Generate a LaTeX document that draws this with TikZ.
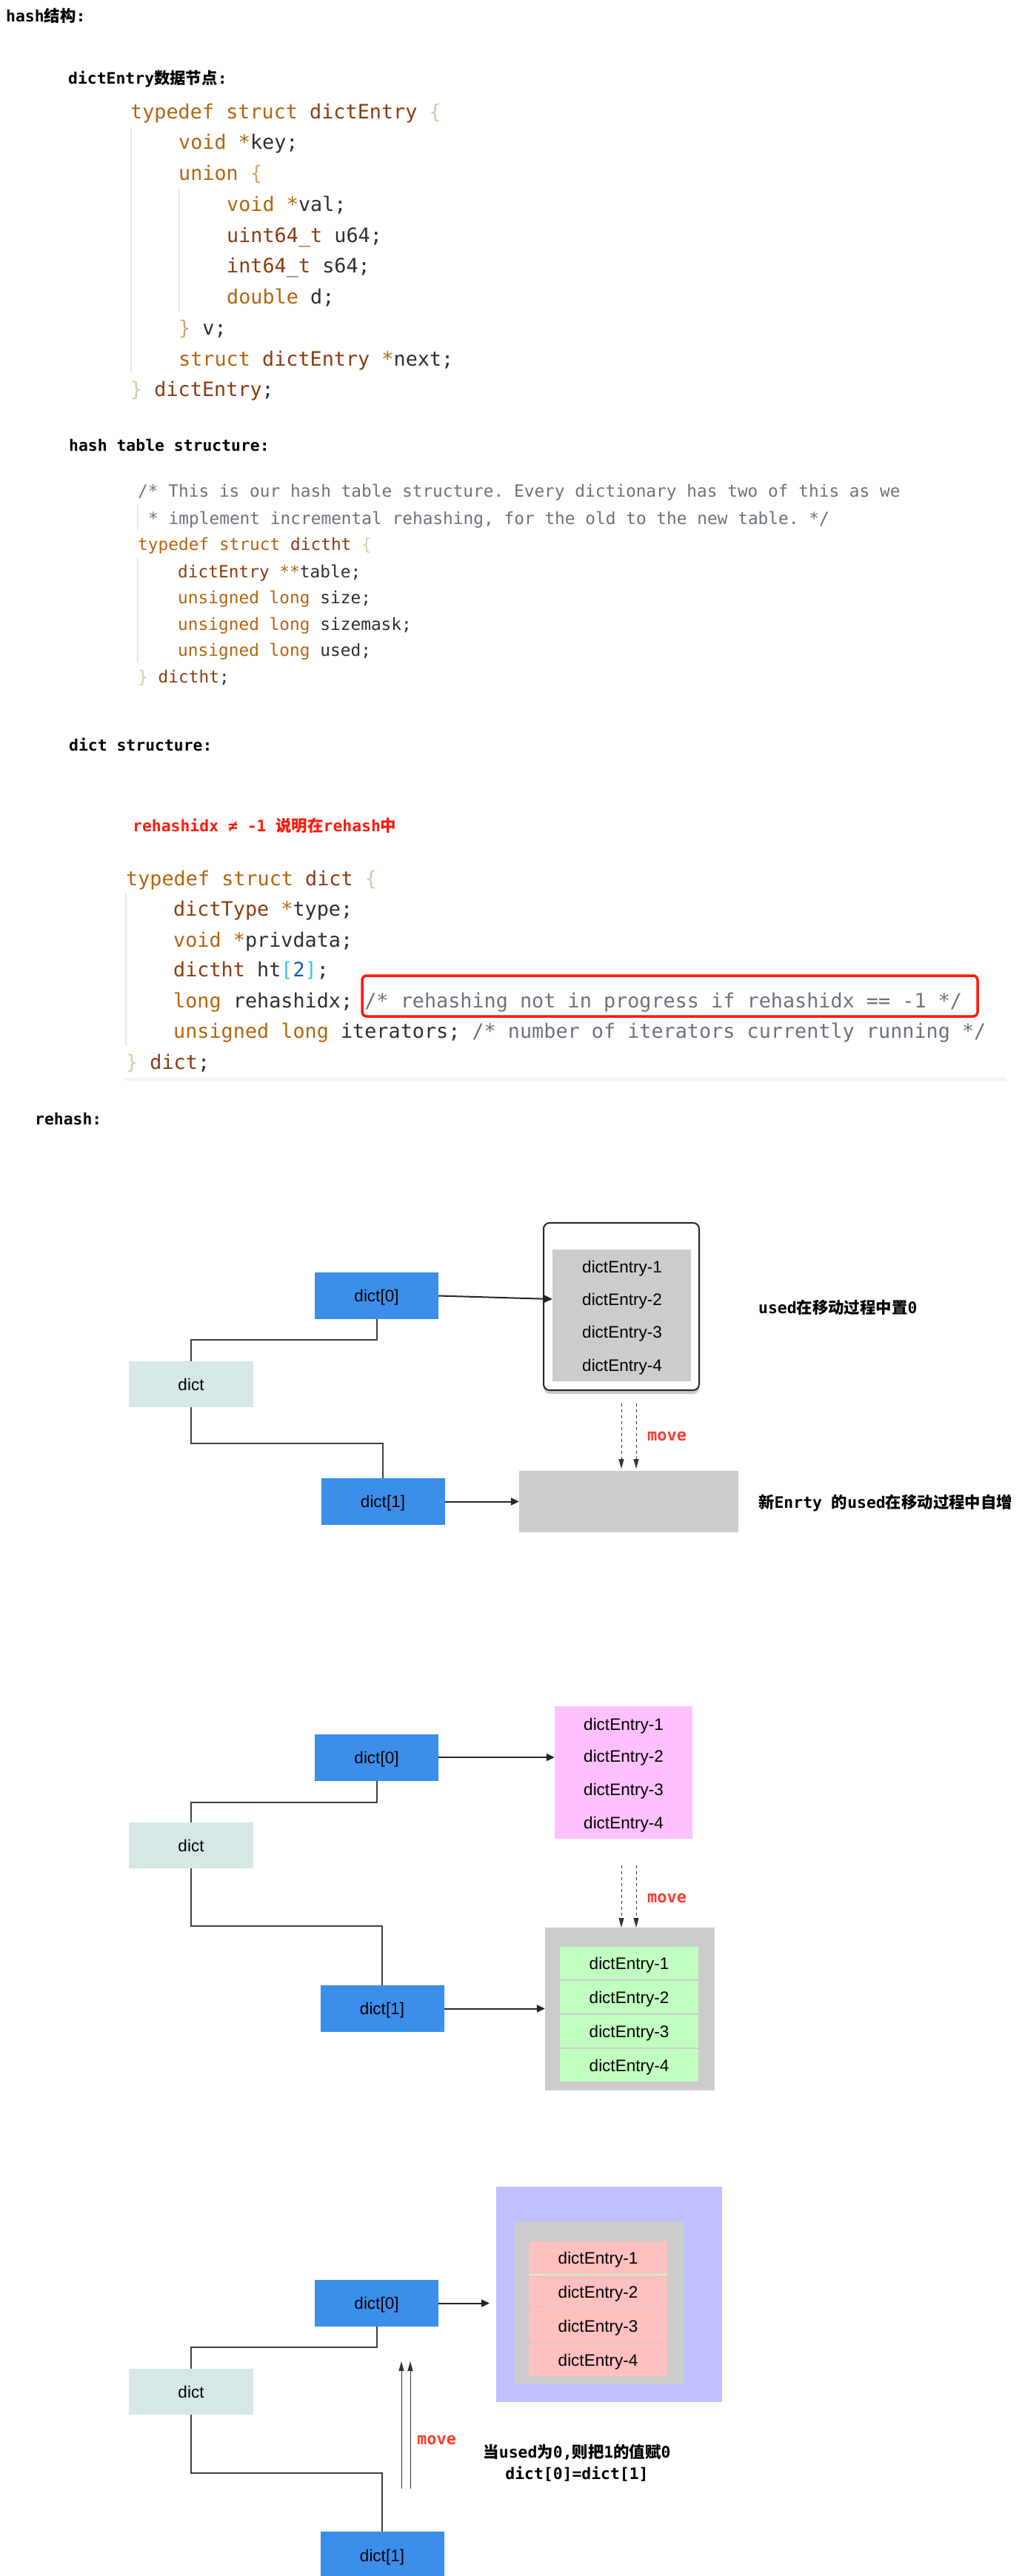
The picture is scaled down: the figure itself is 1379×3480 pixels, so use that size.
\documentclass[tikz,border=0pt]{standalone}
\usepackage{fontspec}
\setmainfont{Liberation Sans}
\setmonofont{DejaVu Sans Mono}
\newfontfamily\cjk{Noto Sans CJK SC}
\usetikzlibrary{arrows.meta,shadows}
\definecolor{kwc}{HTML}{B5640E}
\definecolor{tyc}{HTML}{8C3B10}
\definecolor{brc}{HTML}{D3CEA4}
\definecolor{brbc}{HTML}{D2A56C}
\definecolor{idc}{HTML}{2B3036}
\definecolor{cmc}{HTML}{6A737D}
\definecolor{bkc}{HTML}{3EBEF5}
\definecolor{numc}{HTML}{1357B8}
\definecolor{guidec}{HTML}{E6E6E6}
\definecolor{redc}{HTML}{FF1A0A}
\definecolor{movec}{HTML}{FF3B30}
\definecolor{bluec}{HTML}{3B8EEA}
\definecolor{dictc}{HTML}{D6E8E5}
\definecolor{grayc}{HTML}{CCCCCC}
\definecolor{pinkc}{HTML}{FFC0FF}
\definecolor{greenc}{HTML}{C0FFC0}
\definecolor{salmonc}{HTML}{FFC0C0}
\definecolor{lavc}{HTML}{C0C0FF}
\definecolor{connc}{HTML}{404040}
\definecolor{barc}{HTML}{F2F3F5}
\newcommand\ckw[1]{\textcolor{kwc}{#1}}
\newcommand\cty[1]{\textcolor{tyc}{#1}}
\newcommand\cbr[1]{\textcolor{brc}{#1}}
\newcommand\cbrb[1]{\textcolor{brbc}{#1}}
\newcommand\cid[1]{\textcolor{idc}{#1}}
\newcommand\ccm[1]{\textcolor{cmc}{#1}}
\newcommand\zh[1]{{\cjk #1}}
\tikzset{
  code/.style={anchor=base west, inner sep=0pt, font=\ttfamily\fontsize{26.8pt}{30pt}\selectfont},
  codes/.style={anchor=base west, inner sep=0pt, font=\ttfamily\fontsize{22.8pt}{26pt}\selectfont},
  head/.style={anchor=base west, inner sep=0pt, font=\ttfamily\bfseries\fontsize{21.4pt}{24pt}\selectfont},
  movelbl/.style={anchor=base west, inner sep=0pt, text=movec, font=\ttfamily\bfseries\fontsize{22pt}{24pt}\selectfont},
  guide/.style={draw=guidec, line width=1.5pt},
  lbl/.style={rectangle, inner sep=0pt, text height=16pt, text depth=0pt, font=\fontsize{22.5pt}{26pt}\selectfont},
  dictbox/.style={lbl, fill=bluec, minimum width=167pt, minimum height=63pt},
  rootbox/.style={lbl, fill=dictc, minimum width=168pt, minimum height=62pt},
  conn/.style={draw=connc, line width=2pt},
  arr/.style={draw=black!85, line width=2pt, -{Triangle[length=11pt,width=10pt]}},
  dasharr/.style={draw=black!80, line width=1pt, dash pattern=on 4pt off 4pt, -{Triangle[length=13pt,width=7pt]}},
  uparr/.style={draw=black!80, line width=1pt, -{Triangle[length=13pt,width=7pt]}},
}
\begin{document}
\begin{tikzpicture}[x=1pt,y=-1pt]
\useasboundingbox (0,0) rectangle (1379,3480);
\fill[white] (0,0) rectangle (1379,3480);

% ---------- headings
\node[head] (h1) at (8,29) {hash\zh{结构}:};
\node[head] (h2) at (92,113) {dictEntry\zh{数据节点}:};
\node[head] (h3) at (93,609) {hash table structure:};
\node[head] (h4) at (93,1014) {dict structure:};
\node[head, text=redc] (h5) at (179,1123) {rehashidx ≠ -1 \zh{说明在}rehash\zh{中}};
\node[head] (h6) at (47,1519) {rehash:};

% ---------- block 1: dictEntry
\draw[guide] (177,172) -- (177,504);
\draw[guide] (242,255) -- (242,420);
\node[code] (a1) at (176,160) {\ckw{typedef struct} \cty{dictEntry} \cbr{\{}};
\node[code] (a2) at (241,201) {\ckw{void *}\cid{key;}};
\node[code] (a3) at (241,243) {\ckw{union} \cbrb{\{}};
\node[code] (a4) at (306,285) {\ckw{void *}\cid{val;}};
\node[code] (a5) at (306,327) {\cty{uint64\_t} \cid{u64;}};
\node[code] (a6) at (306,368) {\cty{int64\_t} \cid{s64;}};
\node[code] (a7) at (306,410) {\ckw{double} \cid{d;}};
\node[code] (a8) at (241,452) {\cbrb{\}} \cid{v;}};
\node[code] (a9) at (241,494) {\ckw{struct} \cty{dictEntry} \ckw{*}\cid{next;}};
\node[code] (a10) at (176,535) {\cbr{\}} \cty{dictEntry}\cid{;}};

% ---------- block 2: dictht
\draw[guide] (186,682) -- (186,717);
\draw[guide] (186,753) -- (186,895);
\node[codes] (b1) at (186,671) {\ccm{/* This is our hash table structure. Every dictionary has two of this as we}};
\node[codes] (b2) at (200,708) {\ccm{* implement incremental rehashing, for the old to the new table. */}};
\node[codes] (b3) at (186,743) {\ckw{typedef struct} \cty{dictht} \cbr{\{}};
\node[codes] (b4) at (240,780) {\cty{dictEntry} \ckw{**}\cid{table;}};
\node[codes] (b5) at (240,815) {\ckw{unsigned long} \cid{size;}};
\node[codes] (b6) at (240,851) {\ckw{unsigned long} \cid{sizemask;}};
\node[codes] (b7) at (240,886) {\ckw{unsigned long} \cid{used;}};
\node[codes] (b8) at (186,922) {\cbr{\}} \cty{dictht}\cid{;}};

% ---------- block 3: dict
\draw[guide] (170,1207) -- (170,1413);
\fill[barc] (168,1456) rectangle (1359,1460);
\node[code] (c1) at (170,1196) {\ckw{typedef struct} \cty{dict} \cbr{\{}};
\node[code] (c2) at (234,1237) {\cty{dictType} \ckw{*}\cid{type;}};
\node[code] (c3) at (234,1279) {\ckw{void *}\cid{privdata;}};
\node[code] (c4) at (234,1319) {\cty{dictht} \cid{ht}\textcolor{bkc}{[}\textcolor{numc}{2}\textcolor{bkc}{]}\cid{;}};
\node[code] (c5) at (234,1361) {\ckw{long} \cid{rehashidx;} \ccm{/* rehashing not in progress if rehashidx == -1 */}};
\node[code] (c6) at (234,1402) {\ckw{unsigned long} \cid{iterators;} \ccm{/* number of iterators currently running */}};
\node[code] (c7) at (170,1444) {\cbr{\}} \cty{dict}\cid{;}};
\draw[draw=redc, line width=3.5pt, rounded corners=6pt] (489,1318) rectangle (1320,1373);

% ---------- diagram 1
\node[draw=black!85, line width=2pt, rounded corners=8pt, fill=white, minimum width=210pt, minimum height=226pt,
      drop shadow={shadow xshift=0pt, shadow yshift=-5pt, opacity=0.35, fill=black!60}] (outer1) at (839,1765) {};
\node[fill=grayc, minimum width=187pt, minimum height=178pt, inner sep=0pt] (inner1) at (839.5,1777) {};
\node[lbl] (e11) at (840,1711) {dictEntry-1};
\node[lbl] (e12) at (840,1755) {dictEntry-2};
\node[lbl] (e13) at (840,1799) {dictEntry-3};
\node[lbl] (e14) at (840,1844) {dictEntry-4};
\node[dictbox] (d0a) at (508.5,1750.5) {dict[0]};
\node[rootbox] (dicta) at (258,1870) {dict};
\node[dictbox] (d1a) at (517,2028.5) {dict[1]};
\node[fill=grayc, minimum width=296pt, minimum height=83pt, inner sep=0pt] (tgt1) at (849,2028.5) {};
\draw[conn] (d0a.south) -- ++(0,28) -| (dicta.north);
\draw[conn] (dicta.south) -- ++(0,49) -| (d1a.north);
\draw[arr] (d0a.east) -- (inner1.west |- e12);
\draw[arr] (d1a.east) -- (tgt1.west);
\coordinate (m1s) at (839,1896); \coordinate (m1e) at (839,1984);
\coordinate (m2s) at (859,1896); \coordinate (m2e) at (859,1984);
\draw[dasharr] (m1s) -- (m1e);
\draw[dasharr] (m2s) -- (m2e);
\node[movelbl] (mv1) at (874,1946) {move};
\node[head] (n1) at (1024,1774) {used\zh{在移动过程中置}0};
\node[head] (n2) at (1024,2037) {\zh{新}Enrty \zh{的}used\zh{在移动过程中自增}};

% ---------- diagram 2
\node[fill=pinkc, minimum width=186pt, minimum height=179pt, inner sep=0pt] (pink2) at (842,2394.5) {};
\node[lbl] (e21) at (842,2329) {dictEntry-1};
\node[lbl] (e22) at (842,2372) {dictEntry-2};
\node[lbl] (e23) at (842,2417) {dictEntry-3};
\node[lbl] (e24) at (842,2462) {dictEntry-4};
\node[dictbox] (d0b) at (508.5,2374) {dict[0]};
\node[rootbox] (dictb) at (258,2493) {dict};
\node[dictbox] (d1b) at (516,2713.5) {dict[1]};
\draw[conn] (d0b.south) -- ++(0,29) -| (dictb.north);
\draw[conn] (dictb.south) -- ++(0,78) -| (d1b.north);
\draw[arr] (d0b.east) -- (pink2.west |- d0b.east);
\coordinate (m3s) at (839,2520); \coordinate (m3e) at (839,2604);
\coordinate (m4s) at (859,2520); \coordinate (m4e) at (859,2604);
\draw[dasharr] (m3s) -- (m3e);
\draw[dasharr] (m4s) -- (m4e);
\node[movelbl] (mv2) at (874,2570) {move};
\node[fill=grayc, minimum width=229pt, minimum height=220pt, inner sep=0pt] (cont2) at (850.5,2714) {};
\node[lbl, fill=greenc, minimum width=187pt, minimum height=44pt] (g1) at (849.5,2652) {dictEntry-1};
\node[lbl, fill=greenc, minimum width=187pt, minimum height=44pt] (g2) at (849.5,2698) {dictEntry-2};
\node[lbl, fill=greenc, minimum width=187pt, minimum height=44pt] (g3) at (849.5,2744) {dictEntry-3};
\node[lbl, fill=greenc, minimum width=187pt, minimum height=44pt] (g4) at (849.5,2790) {dictEntry-4};
\draw[arr] (d1b.east) -- (cont2.west |- d1b.east);

% ---------- diagram 3
\node[fill=lavc, minimum width=305pt, minimum height=291pt, inner sep=0pt] (lav3) at (822.5,3099.5) {};
\node[fill=grayc, minimum width=228pt, minimum height=220pt, inner sep=0pt] (gray3) at (809,3111) {};
\node[lbl, fill=salmonc, minimum width=187pt, minimum height=45pt] (r1) at (807.5,3050.5) {dictEntry-1};
\node[lbl, fill=salmonc, minimum width=187pt, minimum height=45pt] (r2) at (807.5,3096.5) {dictEntry-2};
\node[lbl, fill=salmonc, minimum width=187pt, minimum height=45pt] (r3) at (807.5,3142.5) {dictEntry-3};
\node[lbl, fill=salmonc, minimum width=187pt, minimum height=44pt] (r4) at (807.5,3188) {dictEntry-4};
\draw[greenc, line width=1.5pt] (r1.south west) -- (r1.south east);
\node[dictbox] (d0c) at (508.5,3111.5) {dict[0]};
\node[rootbox] (dictc) at (258,3231) {dict};
\node[dictbox, minimum height=64pt] (d1c) at (516,3452) {dict[1]};
\draw[conn] (d0c.south) -- ++(0,28) -| (dictc.north);
\draw[conn] (dictc.south) -- ++(0,79) -| (d1c.north);
\coordinate (a3end) at (661,3111.5);
\draw[arr] (d0c.east) -- (a3end);
\coordinate (u1s) at (542,3362); \coordinate (u1e) at (542,3190);
\coordinate (u2s) at (554,3362); \coordinate (u2e) at (554,3190);
\draw[uparr] (u1s) -- (u1e);
\draw[uparr] (u2s) -- (u2e);
\node[movelbl] (mv3) at (563,3302) {move};
\node[head, anchor=base] (n3) at (779,3320) {\zh{当}used\zh{为}0,\zh{则把}1\zh{的值赋}0};
\node[head, anchor=base] (n4) at (779,3349) {dict[0]=dict[1]};
\end{tikzpicture}
\end{document}
